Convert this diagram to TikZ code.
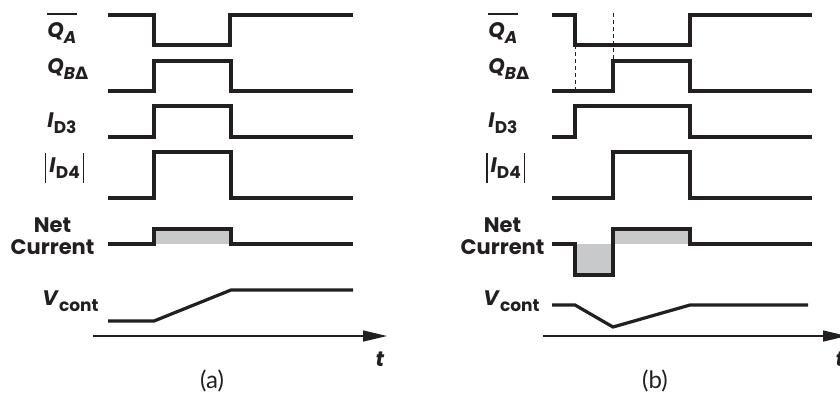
\documentclass[tikz,border=0pt]{standalone}
\usepackage{fontspec}
\setmainfont{Poppins}
\newfontfamily\symfont{DejaVu Sans}
\newfontfamily\capfont{Lato}
\usetikzlibrary{arrows.meta}
\definecolor{ink}{HTML}{231F20}
\definecolor{greyfill}{HTML}{C8C9CB}
\newcommand{\lsub}[1]{\raisebox{-0.32em}{\fontsize{8.5}{9}\selectfont #1}}
\newcommand{\magbar}{\vrule width 0.55pt height 9.5pt depth 5.5pt}

\begin{document}
\begin{tikzpicture}[x=0.5pt, y=-0.5pt,
    wave/.style={ink, line width=1.6pt, line join=miter},
    guide/.style={ink, line width=0.5pt, dash pattern=on 2pt off 1.5pt},
    axis/.style={ink, line width=0.65pt, -{Triangle[length=12pt, width=5.5pt]}},
    lbl/.style={ink, font=\fontsize{10.5}{12}\selectfont\bfseries, anchor=base west, inner sep=0pt},
    panellbl/.style={ink, font=\capfont\fontsize{12}{13}\selectfont, inner sep=0pt}]
  \useasboundingbox (0,0) rectangle (840,393);

  % signal names, one set per panel
  \foreach \dx/\dn/\pan in {0/0/a, 441/450/b} {
    \node[lbl] (qa-\pan) at (47+\dx, 37) {\textit{Q}\lsub{\textit{A}}};
    \draw[ink, line width=1pt] ([yshift=3.6pt]qa-\pan.north west) -- ([yshift=3.6pt]qa-\pan.north east);
    \node[lbl] (qb-\pan) at (47+\dx, 73) {\textit{Q}\lsub{\textit{B}{\symfont\bfseries Δ}}};
    \node[lbl] (id3-\pan) at (47+\dx, 127) {\textit{I}\lsub{D3}};
    \node[lbl] (id4-\pan) at (45+\dx, 172) {\magbar\kern1.5pt\textit{I}\lsub{D4}\kern1.5pt\magbar};
    \node[lbl, anchor=center, align=center] (net-\pan) at (52.5+\dn, 236) {Net\\[-1pt] Current};
    \node[lbl] (vc-\pan) at (42+\dx, 305) {\textit{V}\lsub{cont}};
  }

  % (a) charge pump, no skew
  \draw[wave] (108,15) -- (154,15) -- (154,45) -- (230,45) -- (230,15) -- (353,15);
  \draw[wave] (108,91) -- (154,91) -- (154,61) -- (231,61) -- (231,91) -- (353,91);
  \draw[wave] (108,137) -- (154,137) -- (154,106) -- (231,106) -- (231,137) -- (353,137);
  \draw[wave] (108,198) -- (154,198) -- (154,152) -- (231,152) -- (231,198) -- (353,198);
  \fill[greyfill] (154,229) rectangle (231,244);
  \draw[wave] (108,244) -- (154,244) -- (154,229) -- (231,229) -- (231,244) -- (353,244);
  \draw[wave] (108,321) -- (154,321) -- (231,290) -- (353,290);
  \draw[axis] (93,336) -- (387,336);
  \node[lbl, anchor=center] (t-a) at (380,359) {\textit{t}};
  \node[panellbl] (cap-a) at (212,381) {(a)};

  % (b) delayed QB
  \draw[wave] (552,15) -- (575,15) -- (575,45) -- (690,45) -- (690,15) -- (812,15);
  \draw[wave] (552,91) -- (613,91) -- (613,61) -- (690,61) -- (690,91) -- (812,91);
  \draw[guide] (575,45) -- (575,91);
  \draw[guide] (613,13) -- (613,91);
  \draw[wave] (552,137) -- (575,137) -- (575,106) -- (690,106) -- (690,137) -- (812,137);
  \draw[wave] (552,198) -- (613,198) -- (613,152) -- (690,152) -- (690,198) -- (812,198);
  \fill[greyfill] (575,244) rectangle (613,275);
  \fill[greyfill] (613,229) rectangle (690,244);
  \draw[wave] (552,244) -- (575,244) -- (575,275) -- (613,275) -- (613,229) -- (690,229) -- (690,244) -- (812,244);
  \draw[wave] (552,305) -- (575,305) -- (613,327) -- (690,305) -- (808,305);
  \draw[axis] (543,336) -- (847,336);
  \node[lbl, anchor=center] (t-b) at (840,359) {\textit{t}};
  \node[panellbl] (cap-b) at (655,381) {(b)};
\end{tikzpicture}
\end{document}
